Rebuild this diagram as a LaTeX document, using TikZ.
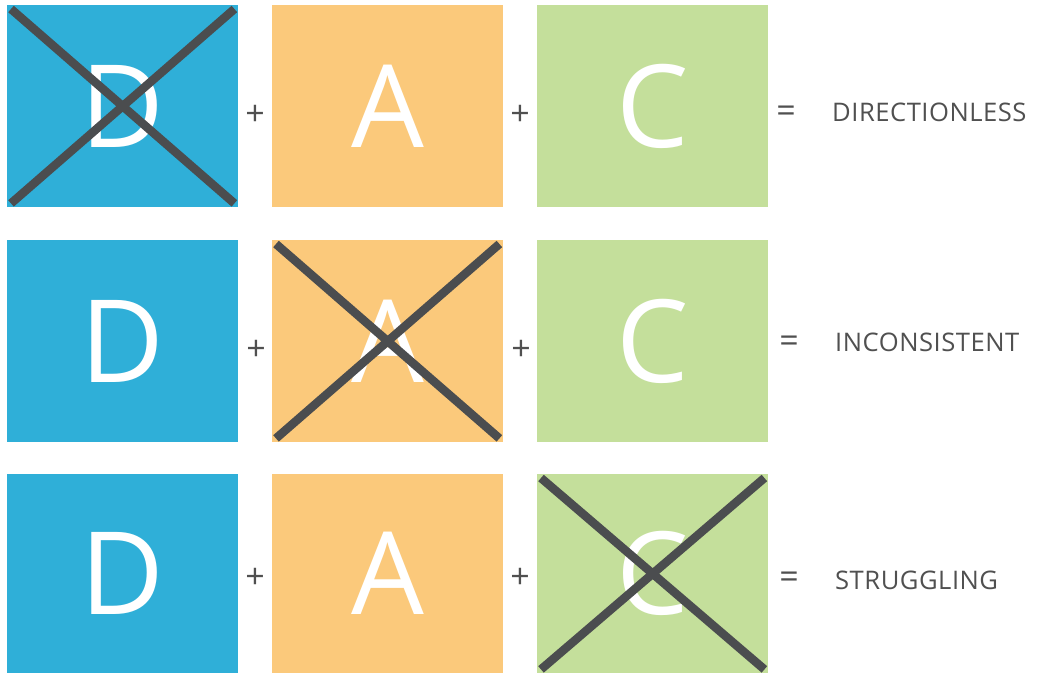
\documentclass[tikz,border=0pt]{standalone}
\usepackage{fontspec}
\setmainfont{Open Sans}
\usetikzlibrary{calc}
\definecolor{cD}{HTML}{2FAFD8}
\definecolor{cA}{HTML}{FBC97B}
\definecolor{cC}{HTML}{C4DF9B}
\definecolor{xgray}{HTML}{4B4D4F}
\definecolor{tgray}{HTML}{505050}
\tikzset{
  box/.style={rectangle, inner sep=0pt, minimum width=231pt, minimum height=202pt, text=white, font=\fontsize{115}{115}\selectfont, anchor=north west},
  op/.style={text=tgray, font=\fontsize{34}{34}\selectfont, inner sep=0pt},
  lbl/.style={text=tgray, font=\fontsize{25.6}{26}\selectfont\addfontfeature{LetterSpace=2}, inner sep=0pt, anchor=west},
  cross/.style={draw=xgray, line width=8.5pt, line cap=butt}
}
\begin{document}
\begin{tikzpicture}[x=1pt,y=-1pt]
\useasboundingbox (0,0) rectangle (1037,674);
% row 1
\node[box, fill=cD] (d1) at (7,5) {D};
\node[box, fill=cA] (a1) at (272,5) {A};
\node[box, fill=cC] (c1) at (537,5) {C};
\node[op] (p11) at (255,115) {+};
\node[op] (p12) at (520,115) {+};
\node[op] (e1) at (786,114) {=};
\node[lbl] (l1) at (832,112) {DIRECTIONLESS};
% row 2
\node[box, fill=cD] (d2) at (7,240) {D};
\node[box, fill=cA] (a2) at (272,240) {A};
\node[box, fill=cC] (c2) at (537,240) {C};
\node[op] (p21) at (256,350) {+};
\node[op] (p22) at (521,350) {+};
\node[op] (e2) at (789,344) {=};
\node[lbl] (l2) at (835,342) {INCONSISTENT};
% row 3
\node[box, fill=cD, minimum height=199pt] (d3) at (7,474) {D};
\node[box, fill=cA, minimum height=199pt] (a3) at (272,474) {A};
\node[box, fill=cC, minimum height=199pt] (c3) at (537,474) {C};
\node[op] (p31) at (255,578) {+};
\node[op] (p32) at (520,578) {+};
\node[op] (e3) at (789,580) {=};
\node[lbl] (l3) at (835,580) {STRUGGLING};
% crosses
\foreach \b in {d1,a2,c3}{
  \draw[cross] ($(\b.north west)+(4,4)$) -- ($(\b.south east)+(-4,-4)$);
  \draw[cross] ($(\b.north east)+(-4,4)$) -- ($(\b.south west)+(4,-4)$);
}
\end{tikzpicture}
\end{document}
